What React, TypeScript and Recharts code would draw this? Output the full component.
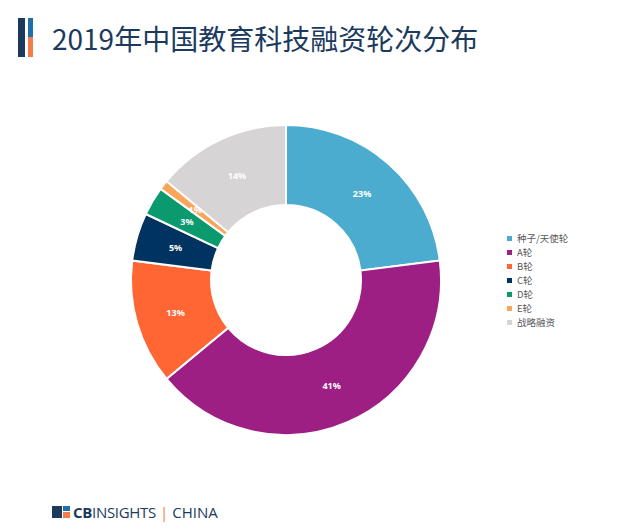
import React from "react"
import { PieChart, Pie, Cell, Legend } from "recharts"

const rounds = ["种子/天使轮", "A轮", "B轮", "C轮", "D轮", "E轮", "战略融资"]
const shares = [23, 41, 13, 5, 3, 1, 14]
const colors = ["#4BACD0", "#9E1F84", "#FF6633", "#00335F", "#0B9A6E", "#F9A65A", "#D6D4D5"]

const data = rounds.map((name, i) => ({ name, value: shares[i] }))

const RADIAN = Math.PI / 180

const renderLabel = (props: any) => {
  const { cx, cy, midAngle, innerRadius, outerRadius, value } = props
  const r = (innerRadius + outerRadius) / 2
  const x = cx + r * Math.cos(-midAngle * RADIAN)
  const y = cy + r * Math.sin(-midAngle * RADIAN)
  return (
    <text x={x} y={y} fill="#fff" fontSize={9} fontWeight="bold" textAnchor="middle" dominantBaseline="central" fontFamily="Noto Sans">
      {value}%
    </text>
  )
}

const renderLegend = () => (
  <ul style={{ listStyle: "none", margin: 0, padding: 0 }}>
    {rounds.map((name, i) => (
      <li key={name} style={{ display: "flex", alignItems: "center", height: 14, fontSize: 9.5, color: "#595959", fontFamily: "'Noto Sans CJK SC', 'Noto Sans'" }}>
        <span style={{ display: "inline-block", width: 5, height: 5, background: colors[i], marginRight: 5 }} />
        {name}
      </li>
    ))}
  </ul>
)

export default function App() {
  return (
    <div style={{ position: "absolute", left: 0, top: 0, width: 620, height: 529, background: "#fff", fontFamily: "'Noto Sans CJK SC', 'Noto Sans', sans-serif" }}>
      {/* header mark */}
      <div style={{ position: "absolute", left: 18, top: 18, width: 7, height: 39, background: "#1B3A5E" }} />
      <div style={{ position: "absolute", left: 28, top: 18, width: 5, height: 19, background: "#1F6FA8" }} />
      <div style={{ position: "absolute", left: 28, top: 37, width: 5, height: 20, background: "#F47B4A" }} />
      <div style={{ position: "absolute", left: 52, top: 18, fontSize: 28, color: "#1B3A5E", whiteSpace: "nowrap", lineHeight: "40px" }}>
        2019年中国教育科技融资轮次分布
      </div>

      <div style={{ position: "absolute", left: 0, top: 0 }}>
        <PieChart width={620} height={529} margin={{ top: 0, right: 0, bottom: 0, left: 0 }}>
          <Pie
            data={data}
            dataKey="value"
            nameKey="name"
            cx={286}
            cy={280}
            innerRadius={75}
            outerRadius={155}
            startAngle={90}
            endAngle={-270}
            stroke="#fff"
            strokeWidth={2}
            label={renderLabel}
            labelLine={false}
            isAnimationActive={false}
          >
            {data.map((d, i) => (
              <Cell key={d.name} fill={colors[i]} />
            ))}
          </Pie>
          <Legend layout="vertical" align="right" verticalAlign="top" content={renderLegend} wrapperStyle={{ left: 507, top: 231, width: 100 }} />
        </PieChart>
      </div>

      {/* footer logo */}
      <div style={{ position: "absolute", left: 52, top: 502, display: "flex", alignItems: "center", whiteSpace: "nowrap" }}>
        <svg width={18} height={12}>
          <rect x={0} y={0} width={10} height={12} fill="#1B3A5E" />
          <rect x={11} y={0} width={7} height={5} fill="#1F6FA8" />
          <rect x={11} y={6} width={7} height={6} fill="#F47B4A" />
        </svg>
        <span style={{ marginLeft: 3, fontSize: 15, color: "#1B3A5E", fontFamily: "'Open Sans'", letterSpacing: -0.3 }}>
          <b>CB</b>INSIGHTS
        </span>
        <span style={{ margin: "0 4px", fontSize: 15, color: "#F47B4A", fontFamily: "'Open Sans'" }}>|</span>
        <span style={{ fontSize: 15, color: "#1B3A5E", fontFamily: "'Open Sans'" }}>CHINA</span>
      </div>
    </div>
  )
}
